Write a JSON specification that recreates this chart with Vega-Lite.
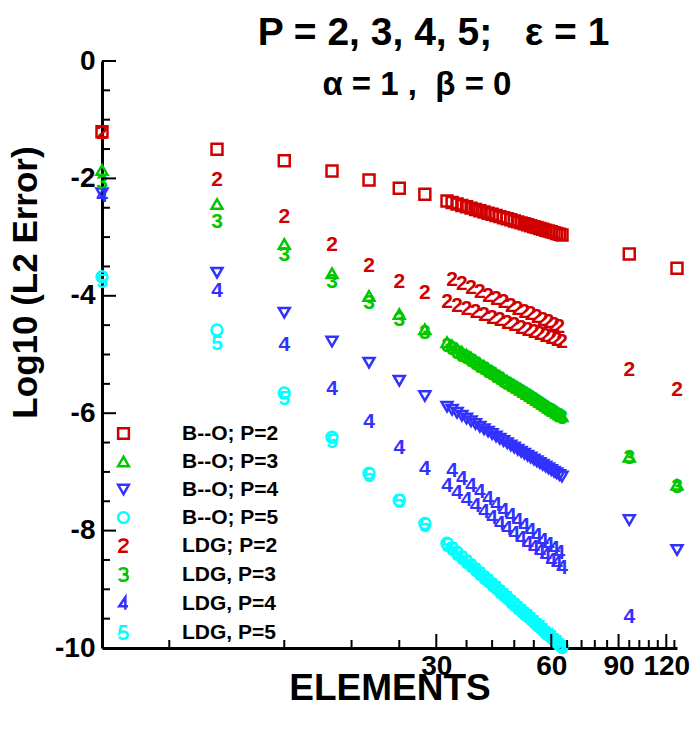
{
"$schema": "https://vega.github.io/schema/vega-lite/v6.json",
"width": 575, "height": 587,
"autosize": "none",
"padding": {"left": 102, "top": 61, "right": 14, "bottom": 84},
"background": "white",
"title": {"text": "P = 2, 3, 4, 5;\u00a0\u00a0\u00a0ε = 1", "subtitle": "α = 1 ,\u00a0\u00a0β = 0\u00a0\u2800", "anchor": "middle", "frame": "group", "offset": -55, "dx": 44,
  "font": "Liberation Sans", "fontSize": 39, "fontWeight": "bold", "color": "black",
  "subtitleFont": "Liberation Sans", "subtitleFontSize": 33, "subtitleFontWeight": "bold", "subtitleColor": "black", "subtitlePadding": 16},
"data": {"values": [
{"series":"B--O; P=2","P":2,"N":4,"err":-1.204},{"series":"B--O; P=2","P":2,"N":8,"err":-1.505},{"series":"B--O; P=2","P":2,"N":12,"err":-1.698},{"series":"B--O; P=2","P":2,"N":16,"err":-1.874},{"series":"B--O; P=2","P":2,"N":20,"err":-2.027},{"series":"B--O; P=2","P":2,"N":24,"err":-2.169},{"series":"B--O; P=2","P":2,"N":28,"err":-2.271},
{"series":"B--O; P=2","P":2,"N":32,"err":-2.385},{"series":"B--O; P=2","P":2,"N":33,"err":-2.411},{"series":"B--O; P=2","P":2,"N":34,"err":-2.436},{"series":"B--O; P=2","P":2,"N":35,"err":-2.460},{"series":"B--O; P=2","P":2,"N":36,"err":-2.483},{"series":"B--O; P=2","P":2,"N":37,"err":-2.506},{"series":"B--O; P=2","P":2,"N":38,"err":-2.529},{"series":"B--O; P=2","P":2,"N":39,"err":-2.550},{"series":"B--O; P=2","P":2,"N":40,"err":-2.571},{"series":"B--O; P=2","P":2,"N":41,"err":-2.592},{"series":"B--O; P=2","P":2,"N":42,"err":-2.612},{"series":"B--O; P=2","P":2,"N":43,"err":-2.632},{"series":"B--O; P=2","P":2,"N":44,"err":-2.651},{"series":"B--O; P=2","P":2,"N":45,"err":-2.670},{"series":"B--O; P=2","P":2,"N":46,"err":-2.688},{"series":"B--O; P=2","P":2,"N":47,"err":-2.706},{"series":"B--O; P=2","P":2,"N":48,"err":-2.724},{"series":"B--O; P=2","P":2,"N":49,"err":-2.741},{"series":"B--O; P=2","P":2,"N":50,"err":-2.758},{"series":"B--O; P=2","P":2,"N":51,"err":-2.774},{"series":"B--O; P=2","P":2,"N":52,"err":-2.791},{"series":"B--O; P=2","P":2,"N":53,"err":-2.806},{"series":"B--O; P=2","P":2,"N":54,"err":-2.822},{"series":"B--O; P=2","P":2,"N":55,"err":-2.837},{"series":"B--O; P=2","P":2,"N":56,"err":-2.852},{"series":"B--O; P=2","P":2,"N":57,"err":-2.867},{"series":"B--O; P=2","P":2,"N":58,"err":-2.882},{"series":"B--O; P=2","P":2,"N":59,"err":-2.896},{"series":"B--O; P=2","P":2,"N":60,"err":-2.910},{"series":"B--O; P=2","P":2,"N":61,"err":-2.924},{"series":"B--O; P=2","P":2,"N":62,"err":-2.937},{"series":"B--O; P=2","P":2,"N":63,"err":-2.951},{"series":"B--O; P=2","P":2,"N":64,"err":-2.964},{"series":"B--O; P=2","P":2,"N":96,"err":-3.288},{"series":"B--O; P=2","P":2,"N":128,"err":-3.532},
{"series":"B--O; P=3","P":3,"N":4,"err":-1.857},{"series":"B--O; P=3","P":3,"N":8,"err":-2.436},{"series":"B--O; P=3","P":3,"N":12,"err":-3.118},{"series":"B--O; P=3","P":3,"N":16,"err":-3.617},{"series":"B--O; P=3","P":3,"N":20,"err":-4.003},{"series":"B--O; P=3","P":3,"N":24,"err":-4.31},{"series":"B--O; P=3","P":3,"N":28,"err":-4.571},
{"series":"B--O; P=3","P":3,"N":32,"err":-4.790},{"series":"B--O; P=3","P":3,"N":33,"err":-4.846},{"series":"B--O; P=3","P":3,"N":34,"err":-4.900},{"series":"B--O; P=3","P":3,"N":35,"err":-4.953},{"series":"B--O; P=3","P":3,"N":36,"err":-5.004},{"series":"B--O; P=3","P":3,"N":37,"err":-5.054},{"series":"B--O; P=3","P":3,"N":38,"err":-5.102},{"series":"B--O; P=3","P":3,"N":39,"err":-5.150},{"series":"B--O; P=3","P":3,"N":40,"err":-5.196},{"series":"B--O; P=3","P":3,"N":41,"err":-5.241},{"series":"B--O; P=3","P":3,"N":42,"err":-5.284},{"series":"B--O; P=3","P":3,"N":43,"err":-5.327},{"series":"B--O; P=3","P":3,"N":44,"err":-5.369},{"series":"B--O; P=3","P":3,"N":45,"err":-5.410},{"series":"B--O; P=3","P":3,"N":46,"err":-5.450},{"series":"B--O; P=3","P":3,"N":47,"err":-5.489},{"series":"B--O; P=3","P":3,"N":48,"err":-5.527},{"series":"B--O; P=3","P":3,"N":49,"err":-5.565},{"series":"B--O; P=3","P":3,"N":50,"err":-5.601},{"series":"B--O; P=3","P":3,"N":51,"err":-5.637},{"series":"B--O; P=3","P":3,"N":52,"err":-5.673},{"series":"B--O; P=3","P":3,"N":53,"err":-5.707},{"series":"B--O; P=3","P":3,"N":54,"err":-5.741},{"series":"B--O; P=3","P":3,"N":55,"err":-5.775},{"series":"B--O; P=3","P":3,"N":56,"err":-5.807},{"series":"B--O; P=3","P":3,"N":57,"err":-5.839},{"series":"B--O; P=3","P":3,"N":58,"err":-5.871},{"series":"B--O; P=3","P":3,"N":59,"err":-5.902},{"series":"B--O; P=3","P":3,"N":60,"err":-5.933},{"series":"B--O; P=3","P":3,"N":61,"err":-5.963},{"series":"B--O; P=3","P":3,"N":62,"err":-5.992},{"series":"B--O; P=3","P":3,"N":63,"err":-6.021},{"series":"B--O; P=3","P":3,"N":64,"err":-6.050},{"series":"B--O; P=3","P":3,"N":96,"err":-6.74},{"series":"B--O; P=3","P":3,"N":128,"err":-7.22},
{"series":"B--O; P=4","P":4,"N":4,"err":-2.254},{"series":"B--O; P=4","P":4,"N":8,"err":-3.606},{"series":"B--O; P=4","P":4,"N":12,"err":-4.287},{"series":"B--O; P=4","P":4,"N":16,"err":-4.78},{"series":"B--O; P=4","P":4,"N":20,"err":-5.14},{"series":"B--O; P=4","P":4,"N":24,"err":-5.446},{"series":"B--O; P=4","P":4,"N":28,"err":-5.707},
{"series":"B--O; P=4","P":4,"N":32,"err":-5.889},{"series":"B--O; P=4","P":4,"N":33,"err":-5.942},{"series":"B--O; P=4","P":4,"N":34,"err":-5.993},{"series":"B--O; P=4","P":4,"N":35,"err":-6.043},{"series":"B--O; P=4","P":4,"N":36,"err":-6.091},{"series":"B--O; P=4","P":4,"N":37,"err":-6.138},{"series":"B--O; P=4","P":4,"N":38,"err":-6.184},{"series":"B--O; P=4","P":4,"N":39,"err":-6.229},{"series":"B--O; P=4","P":4,"N":40,"err":-6.272},{"series":"B--O; P=4","P":4,"N":41,"err":-6.314},{"series":"B--O; P=4","P":4,"N":42,"err":-6.356},{"series":"B--O; P=4","P":4,"N":43,"err":-6.396},{"series":"B--O; P=4","P":4,"N":44,"err":-6.436},{"series":"B--O; P=4","P":4,"N":45,"err":-6.474},{"series":"B--O; P=4","P":4,"N":46,"err":-6.512},{"series":"B--O; P=4","P":4,"N":47,"err":-6.549},{"series":"B--O; P=4","P":4,"N":48,"err":-6.585},{"series":"B--O; P=4","P":4,"N":49,"err":-6.621},{"series":"B--O; P=4","P":4,"N":50,"err":-6.655},{"series":"B--O; P=4","P":4,"N":51,"err":-6.689},{"series":"B--O; P=4","P":4,"N":52,"err":-6.723},{"series":"B--O; P=4","P":4,"N":53,"err":-6.755},{"series":"B--O; P=4","P":4,"N":54,"err":-6.787},{"series":"B--O; P=4","P":4,"N":55,"err":-6.819},{"series":"B--O; P=4","P":4,"N":56,"err":-6.850},{"series":"B--O; P=4","P":4,"N":57,"err":-6.880},{"series":"B--O; P=4","P":4,"N":58,"err":-6.910},{"series":"B--O; P=4","P":4,"N":59,"err":-6.939},{"series":"B--O; P=4","P":4,"N":60,"err":-6.968},{"series":"B--O; P=4","P":4,"N":61,"err":-6.997},{"series":"B--O; P=4","P":4,"N":62,"err":-7.024},{"series":"B--O; P=4","P":4,"N":63,"err":-7.052},{"series":"B--O; P=4","P":4,"N":64,"err":-7.079},{"series":"B--O; P=4","P":4,"N":96,"err":-7.82},{"series":"B--O; P=4","P":4,"N":128,"err":-8.33},
{"series":"B--O; P=5","P":5,"N":4,"err":-3.674},{"series":"B--O; P=5","P":5,"N":8,"err":-4.583},{"series":"B--O; P=5","P":5,"N":12,"err":-5.656},{"series":"B--O; P=5","P":5,"N":16,"err":-6.41},{"series":"B--O; P=5","P":5,"N":20,"err":-7.024},{"series":"B--O; P=5","P":5,"N":24,"err":-7.484},{"series":"B--O; P=5","P":5,"N":28,"err":-7.88},
{"series":"B--O; P=5","P":5,"N":32,"err":-8.216},{"series":"B--O; P=5","P":5,"N":33,"err":-8.294},{"series":"B--O; P=5","P":5,"N":34,"err":-8.370},{"series":"B--O; P=5","P":5,"N":35,"err":-8.444},{"series":"B--O; P=5","P":5,"N":36,"err":-8.516},{"series":"B--O; P=5","P":5,"N":37,"err":-8.585},{"series":"B--O; P=5","P":5,"N":38,"err":-8.653},{"series":"B--O; P=5","P":5,"N":39,"err":-8.719},{"series":"B--O; P=5","P":5,"N":40,"err":-8.784},{"series":"B--O; P=5","P":5,"N":41,"err":-8.847},{"series":"B--O; P=5","P":5,"N":42,"err":-8.908},{"series":"B--O; P=5","P":5,"N":43,"err":-8.968},{"series":"B--O; P=5","P":5,"N":44,"err":-9.026},{"series":"B--O; P=5","P":5,"N":45,"err":-9.084},{"series":"B--O; P=5","P":5,"N":46,"err":-9.140},{"series":"B--O; P=5","P":5,"N":47,"err":-9.194},{"series":"B--O; P=5","P":5,"N":48,"err":-9.248},{"series":"B--O; P=5","P":5,"N":49,"err":-9.300},{"series":"B--O; P=5","P":5,"N":50,"err":-9.352},{"series":"B--O; P=5","P":5,"N":51,"err":-9.402},{"series":"B--O; P=5","P":5,"N":52,"err":-9.452},{"series":"B--O; P=5","P":5,"N":53,"err":-9.500},{"series":"B--O; P=5","P":5,"N":54,"err":-9.548},{"series":"B--O; P=5","P":5,"N":55,"err":-9.594},{"series":"B--O; P=5","P":5,"N":56,"err":-9.640},{"series":"B--O; P=5","P":5,"N":57,"err":-9.685},{"series":"B--O; P=5","P":5,"N":58,"err":-9.730},{"series":"B--O; P=5","P":5,"N":59,"err":-9.773},{"series":"B--O; P=5","P":5,"N":60,"err":-9.816},{"series":"B--O; P=5","P":5,"N":61,"err":-9.858},{"series":"B--O; P=5","P":5,"N":62,"err":-9.899},{"series":"B--O; P=5","P":5,"N":63,"err":-9.940},{"series":"B--O; P=5","P":5,"N":64,"err":-9.980},
{"series":"LDG; P=2","P":2,"N":4,"err":-1.22},{"series":"LDG; P=2","P":2,"N":8,"err":-2.027},{"series":"LDG; P=2","P":2,"N":12,"err":-2.663},{"series":"LDG; P=2","P":2,"N":16,"err":-3.135},{"series":"LDG; P=2","P":2,"N":20,"err":-3.49},{"series":"LDG; P=2","P":2,"N":24,"err":-3.77},{"series":"LDG; P=2","P":2,"N":28,"err":-3.947},
{"series":"LDG; P=2","P":2,"N":32,"err":-4.110},{"series":"LDG; P=2","P":2,"N":33,"err":-3.730},{"series":"LDG; P=2","P":2,"N":34,"err":-4.169},{"series":"LDG; P=2","P":2,"N":35,"err":-3.803},{"series":"LDG; P=2","P":2,"N":36,"err":-4.224},{"series":"LDG; P=2","P":2,"N":37,"err":-3.872},{"series":"LDG; P=2","P":2,"N":38,"err":-4.276},{"series":"LDG; P=2","P":2,"N":39,"err":-3.937},{"series":"LDG; P=2","P":2,"N":40,"err":-4.326},{"series":"LDG; P=2","P":2,"N":41,"err":-3.999},{"series":"LDG; P=2","P":2,"N":42,"err":-4.373},{"series":"LDG; P=2","P":2,"N":43,"err":-4.058},{"series":"LDG; P=2","P":2,"N":44,"err":-4.418},{"series":"LDG; P=2","P":2,"N":45,"err":-4.114},{"series":"LDG; P=2","P":2,"N":46,"err":-4.461},{"series":"LDG; P=2","P":2,"N":47,"err":-4.168},{"series":"LDG; P=2","P":2,"N":48,"err":-4.502},{"series":"LDG; P=2","P":2,"N":49,"err":-4.219},{"series":"LDG; P=2","P":2,"N":50,"err":-4.541},{"series":"LDG; P=2","P":2,"N":51,"err":-4.269},{"series":"LDG; P=2","P":2,"N":52,"err":-4.579},{"series":"LDG; P=2","P":2,"N":53,"err":-4.316},{"series":"LDG; P=2","P":2,"N":54,"err":-4.616},{"series":"LDG; P=2","P":2,"N":55,"err":-4.362},{"series":"LDG; P=2","P":2,"N":56,"err":-4.651},{"series":"LDG; P=2","P":2,"N":57,"err":-4.406},{"series":"LDG; P=2","P":2,"N":58,"err":-4.685},{"series":"LDG; P=2","P":2,"N":59,"err":-4.449},{"series":"LDG; P=2","P":2,"N":60,"err":-4.718},{"series":"LDG; P=2","P":2,"N":61,"err":-4.490},{"series":"LDG; P=2","P":2,"N":62,"err":-4.749},{"series":"LDG; P=2","P":2,"N":63,"err":-4.530},{"series":"LDG; P=2","P":2,"N":64,"err":-4.780},{"series":"LDG; P=2","P":2,"N":96,"err":-5.264},{"series":"LDG; P=2","P":2,"N":128,"err":-5.605},
{"series":"LDG, P=3","P":3,"N":4,"err":-2.08},{"series":"LDG, P=3","P":3,"N":8,"err":-2.737},{"series":"LDG, P=3","P":3,"N":12,"err":-3.305},{"series":"LDG, P=3","P":3,"N":16,"err":-3.76},{"series":"LDG, P=3","P":3,"N":20,"err":-4.117},{"series":"LDG, P=3","P":3,"N":24,"err":-4.41},{"series":"LDG, P=3","P":3,"N":28,"err":-4.64},
{"series":"LDG, P=3","P":3,"N":32,"err":-4.860},{"series":"LDG, P=3","P":3,"N":33,"err":-4.914},{"series":"LDG, P=3","P":3,"N":34,"err":-4.967},{"series":"LDG, P=3","P":3,"N":35,"err":-5.018},{"series":"LDG, P=3","P":3,"N":36,"err":-5.067},{"series":"LDG, P=3","P":3,"N":37,"err":-5.116},{"series":"LDG, P=3","P":3,"N":38,"err":-5.162},{"series":"LDG, P=3","P":3,"N":39,"err":-5.208},{"series":"LDG, P=3","P":3,"N":40,"err":-5.253},{"series":"LDG, P=3","P":3,"N":41,"err":-5.296},{"series":"LDG, P=3","P":3,"N":42,"err":-5.339},{"series":"LDG, P=3","P":3,"N":43,"err":-5.380},{"series":"LDG, P=3","P":3,"N":44,"err":-5.421},{"series":"LDG, P=3","P":3,"N":45,"err":-5.460},{"series":"LDG, P=3","P":3,"N":46,"err":-5.499},{"series":"LDG, P=3","P":3,"N":47,"err":-5.537},{"series":"LDG, P=3","P":3,"N":48,"err":-5.574},{"series":"LDG, P=3","P":3,"N":49,"err":-5.610},{"series":"LDG, P=3","P":3,"N":50,"err":-5.646},{"series":"LDG, P=3","P":3,"N":51,"err":-5.680},{"series":"LDG, P=3","P":3,"N":52,"err":-5.715},{"series":"LDG, P=3","P":3,"N":53,"err":-5.748},{"series":"LDG, P=3","P":3,"N":54,"err":-5.781},{"series":"LDG, P=3","P":3,"N":55,"err":-5.813},{"series":"LDG, P=3","P":3,"N":56,"err":-5.845},{"series":"LDG, P=3","P":3,"N":57,"err":-5.876},{"series":"LDG, P=3","P":3,"N":58,"err":-5.907},{"series":"LDG, P=3","P":3,"N":59,"err":-5.937},{"series":"LDG, P=3","P":3,"N":60,"err":-5.966},{"series":"LDG, P=3","P":3,"N":61,"err":-5.996},{"series":"LDG, P=3","P":3,"N":62,"err":-6.024},{"series":"LDG, P=3","P":3,"N":63,"err":-6.052},{"series":"LDG, P=3","P":3,"N":64,"err":-6.080},{"series":"LDG, P=3","P":3,"N":96,"err":-6.77},{"series":"LDG, P=3","P":3,"N":128,"err":-7.25},
{"series":"LDG, P=4","P":4,"N":4,"err":-2.30},{"series":"LDG, P=4","P":4,"N":8,"err":-3.913},{"series":"LDG, P=4","P":4,"N":12,"err":-4.84},{"series":"LDG, P=4","P":4,"N":16,"err":-5.593},{"series":"LDG, P=4","P":4,"N":20,"err":-6.145},{"series":"LDG, P=4","P":4,"N":24,"err":-6.587},{"series":"LDG, P=4","P":4,"N":28,"err":-6.956},
{"series":"LDG, P=4","P":4,"N":32,"err":-7.240},{"series":"LDG, P=4","P":4,"N":33,"err":-6.985},{"series":"LDG, P=4","P":4,"N":34,"err":-7.362},{"series":"LDG, P=4","P":4,"N":35,"err":-7.113},{"series":"LDG, P=4","P":4,"N":36,"err":-7.478},{"series":"LDG, P=4","P":4,"N":37,"err":-7.233},{"series":"LDG, P=4","P":4,"N":38,"err":-7.587},{"series":"LDG, P=4","P":4,"N":39,"err":-7.347},{"series":"LDG, P=4","P":4,"N":40,"err":-7.691},{"series":"LDG, P=4","P":4,"N":41,"err":-7.456},{"series":"LDG, P=4","P":4,"N":42,"err":-7.789},{"series":"LDG, P=4","P":4,"N":43,"err":-7.559},{"series":"LDG, P=4","P":4,"N":44,"err":-7.883},{"series":"LDG, P=4","P":4,"N":45,"err":-7.658},{"series":"LDG, P=4","P":4,"N":46,"err":-7.973},{"series":"LDG, P=4","P":4,"N":47,"err":-7.752},{"series":"LDG, P=4","P":4,"N":48,"err":-8.059},{"series":"LDG, P=4","P":4,"N":49,"err":-7.842},{"series":"LDG, P=4","P":4,"N":50,"err":-8.141},{"series":"LDG, P=4","P":4,"N":51,"err":-7.929},{"series":"LDG, P=4","P":4,"N":52,"err":-8.221},{"series":"LDG, P=4","P":4,"N":53,"err":-8.012},{"series":"LDG, P=4","P":4,"N":54,"err":-8.297},{"series":"LDG, P=4","P":4,"N":55,"err":-8.093},{"series":"LDG, P=4","P":4,"N":56,"err":-8.370},{"series":"LDG, P=4","P":4,"N":57,"err":-8.170},{"series":"LDG, P=4","P":4,"N":58,"err":-8.441},{"series":"LDG, P=4","P":4,"N":59,"err":-8.245},{"series":"LDG, P=4","P":4,"N":60,"err":-8.510},{"series":"LDG, P=4","P":4,"N":61,"err":-8.317},{"series":"LDG, P=4","P":4,"N":62,"err":-8.576},{"series":"LDG, P=4","P":4,"N":63,"err":-8.387},{"series":"LDG, P=4","P":4,"N":64,"err":-8.640},{"series":"LDG, P=4","P":4,"N":96,"err":-9.467},
{"series":"LDG, P=5","P":5,"N":4,"err":-3.76},{"series":"LDG, P=5","P":5,"N":8,"err":-4.82},{"series":"LDG, P=5","P":5,"N":12,"err":-5.76},{"series":"LDG, P=5","P":5,"N":16,"err":-6.485},{"series":"LDG, P=5","P":5,"N":20,"err":-7.07},{"series":"LDG, P=5","P":5,"N":24,"err":-7.52},{"series":"LDG, P=5","P":5,"N":28,"err":-7.92},
{"series":"LDG, P=5","P":5,"N":32,"err":-8.260},{"series":"LDG, P=5","P":5,"N":33,"err":-8.337},{"series":"LDG, P=5","P":5,"N":34,"err":-8.412},{"series":"LDG, P=5","P":5,"N":35,"err":-8.485},{"series":"LDG, P=5","P":5,"N":36,"err":-8.556},{"series":"LDG, P=5","P":5,"N":37,"err":-8.624},{"series":"LDG, P=5","P":5,"N":38,"err":-8.691},{"series":"LDG, P=5","P":5,"N":39,"err":-8.757},{"series":"LDG, P=5","P":5,"N":40,"err":-8.820},{"series":"LDG, P=5","P":5,"N":41,"err":-8.882},{"series":"LDG, P=5","P":5,"N":42,"err":-8.943},{"series":"LDG, P=5","P":5,"N":43,"err":-9.002},{"series":"LDG, P=5","P":5,"N":44,"err":-9.059},{"series":"LDG, P=5","P":5,"N":45,"err":-9.116},{"series":"LDG, P=5","P":5,"N":46,"err":-9.171},{"series":"LDG, P=5","P":5,"N":47,"err":-9.225},{"series":"LDG, P=5","P":5,"N":48,"err":-9.278},{"series":"LDG, P=5","P":5,"N":49,"err":-9.330},{"series":"LDG, P=5","P":5,"N":50,"err":-9.380},{"series":"LDG, P=5","P":5,"N":51,"err":-9.430},{"series":"LDG, P=5","P":5,"N":52,"err":-9.479},{"series":"LDG, P=5","P":5,"N":53,"err":-9.527},{"series":"LDG, P=5","P":5,"N":54,"err":-9.574},{"series":"LDG, P=5","P":5,"N":55,"err":-9.620},{"series":"LDG, P=5","P":5,"N":56,"err":-9.665},{"series":"LDG, P=5","P":5,"N":57,"err":-9.709},{"series":"LDG, P=5","P":5,"N":58,"err":-9.753},{"series":"LDG, P=5","P":5,"N":59,"err":-9.796},{"series":"LDG, P=5","P":5,"N":60,"err":-9.838},{"series":"LDG, P=5","P":5,"N":61,"err":-9.880},{"series":"LDG, P=5","P":5,"N":62,"err":-9.920},{"series":"LDG, P=5","P":5,"N":63,"err":-9.961},{"series":"LDG, P=5","P":5,"N":64,"err":-10.0}
]},
"layer": [
  {"transform": [{"filter": {"field": "series", "oneOf": ["B--O; P=2","B--O; P=3","B--O; P=4","B--O; P=5"]}}],
   "mark": {"type": "point", "filled": false, "strokeWidth": 2.5, "size": 120, "opacity": 1},
   "encoding": {
     "x": {"field": "N", "type": "quantitative",
       "scale": {"type": "log", "domain": [4, 128], "nice": false},
       "axis": {"values": [30, 60, 90, 120], "format": "d",
         "title": "ELEMENTS", "grid": false, "domainColor": "black", "domainWidth": 3,
         "ticks": false, "tickSize": 0,
         "labelFont": "Liberation Sans", "labelFontWeight": "bold", "labelFontSize": 28, "labelColor": "black",
         "labelPadding": 4, "labelOverlap": false, "labelFlush": false,
         "titleFont": "Liberation Sans", "titleFontSize": 37, "titleFontWeight": "bold", "titleColor": "black",
         "titleBaseline": "alphabetic", "titleY": 51}},
     "y": {"field": "err", "type": "quantitative",
       "scale": {"domain": [-10, 0], "nice": false, "zero": false},
       "axis": {"values": [-10, -8, -6, -4, -2, 0],
         "labelExpr": "'' + datum.value",
         "title": "Log10 (L2 Error)", "grid": false, "domainColor": "black", "domainWidth": 3,
         "ticks": false, "tickSize": 0,
         "labelFont": "Liberation Sans", "labelFontWeight": "bold", "labelFontSize": 28, "labelColor": "black",
         "labelPadding": 7, "labelOverlap": false, "labelFlush": false,
         "titleFont": "Liberation Sans", "titleFontSize": 35, "titleFontWeight": "bold", "titleColor": "black",
         "titleBaseline": "alphabetic", "titleAlign": "center", "titleAngle": -90, "titleX": -66, "titleY": 221}},
     "color": {"field": "series", "type": "nominal",
       "scale": {"domain": ["B--O; P=2","B--O; P=3","B--O; P=4","B--O; P=5","LDG; P=2","LDG, P=3","LDG, P=4","LDG, P=5"],
                 "range": ["#d00000","#00c800","#3232ff","#00ffff","#d00000","#00c800","#3232ff","#00ffff"]},
       "legend": {"orient": "none", "legendX": 11, "legendY": 362, "title": null, "padding": 0,
         "symbolSize": 115, "symbolStrokeWidth": 2.5, "symbolFillColor": "transparent", "labelFont": "Liberation Sans", "labelFontWeight": "bold",
         "labelFontSize": 21, "labelColor": "black", "labelOffset": 48, "rowPadding": 6}},
     "shape": {"field": "series", "type": "nominal",
       "scale": {"domain": ["B--O; P=2","B--O; P=3","B--O; P=4","B--O; P=5","LDG; P=2","LDG, P=3","LDG, P=4","LDG, P=5"],
                 "range": ["square","triangle-up","triangle-down","circle",
                   "M-0.75,-0.6C-0.75,-1.25,0.75,-1.3,0.75,-0.55C0.75,-0.05,-0.75,0.4,-0.8,1.15L0.8,1.15",
                   "M-0.75,-0.8C-0.55,-1.3,0.75,-1.3,0.7,-0.55C0.67,-0.15,0.3,-0.05,-0.15,-0.05C0.4,-0.05,0.8,0.2,0.8,0.55C0.8,1.3,-0.6,1.35,-0.8,0.75",
                   "M0.35,1.15L0.35,-1.15L-0.8,0.5L0.85,0.5",
                   "M0.7,-1.15L-0.5,-1.15L-0.7,0.05C-0.3,-0.3,0.8,-0.3,0.8,0.45C0.8,1.3,-0.55,1.35,-0.8,0.8"]},
       "legend": {"orient": "none", "legendX": 11, "legendY": 362, "title": null, "padding": 0,
         "symbolSize": 115, "symbolStrokeWidth": 2.5, "symbolFillColor": "transparent", "labelFont": "Liberation Sans", "labelFontWeight": "bold",
         "labelFontSize": 21, "labelColor": "black", "labelOffset": 48, "rowPadding": 6}}}},
  {"transform": [{"filter": {"field": "series", "oneOf": ["LDG; P=2","LDG, P=3","LDG, P=4","LDG, P=5"]}}],
   "mark": {"type": "text", "font": "Liberation Sans", "fontWeight": "bold", "fontSize": 21, "baseline": "middle", "align": "center"},
   "encoding": {
     "x": {"field": "N", "type": "quantitative"},
     "y": {"field": "err", "type": "quantitative"},
     "text": {"field": "P", "type": "nominal"},
     "color": {"field": "series", "type": "nominal", "legend": null,
       "scale": {"domain": ["LDG; P=2","LDG, P=3","LDG, P=4","LDG, P=5"], "range": ["#d00000","#00c800","#3232ff","#00ffff"]}}}},
  {"data": {"values": [{"tick":6},{"tick":12},{"tick":18},{"tick":24},{"tick":36},{"tick":42},{"tick":48},{"tick":54},{"tick":66},{"tick":72},{"tick":78},{"tick":84},{"tick":96},{"tick":102},{"tick":108},{"tick":114},{"tick":126}]},
   "mark": {"type": "tick", "orient": "vertical", "size": 8, "thickness": 2, "color": "black", "yOffset": -4, "opacity": 1},
   "encoding": {"x": {"field": "tick", "type": "quantitative"}, "y": {"datum": -10}}},
  {"data": {"values": [{"tick":30},{"tick":60},{"tick":90},{"tick":120}]},
   "mark": {"type": "tick", "orient": "vertical", "size": 14, "thickness": 2, "color": "black", "yOffset": -7, "opacity": 1},
   "encoding": {"x": {"field": "tick", "type": "quantitative"}, "y": {"datum": -10}}},
  {"data": {"values": [{"tick":-9.5},{"tick":-9},{"tick":-8.5},{"tick":-7.5},{"tick":-7},{"tick":-6.5},{"tick":-5.5},{"tick":-5},{"tick":-4.5},{"tick":-3.5},{"tick":-3},{"tick":-2.5},{"tick":-1.5},{"tick":-1},{"tick":-0.5}]},
   "mark": {"type": "tick", "orient": "horizontal", "size": 8, "thickness": 2, "color": "black", "xOffset": 4, "opacity": 1},
   "encoding": {"y": {"field": "tick", "type": "quantitative"}, "x": {"datum": 4}}},
  {"data": {"values": [{"tick":-8},{"tick":-6},{"tick":-4},{"tick":-2},{"tick":0}]},
   "mark": {"type": "tick", "orient": "horizontal", "size": 14, "thickness": 2, "color": "black", "xOffset": 7, "opacity": 1},
   "encoding": {"y": {"field": "tick", "type": "quantitative"}, "x": {"datum": 4}}}
],
"resolve": {"scale": {"color": "independent", "shape": "independent"}, "legend": {"color": "independent", "shape": "independent"}},
"config": {"view": {"stroke": null}}
}
